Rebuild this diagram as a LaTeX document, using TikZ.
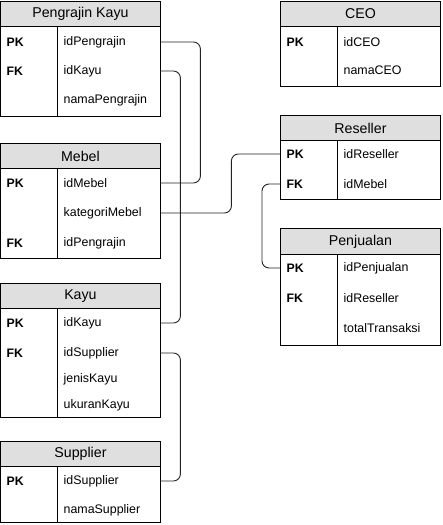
\documentclass[tikz,border=0pt]{standalone}
\usepackage{fontspec}
\setmainfont{Liberation Sans}
\definecolor{hdrgray}{HTML}{DFDFDF}
\definecolor{linegray}{HTML}{222222}
\begin{document}
\begin{tikzpicture}[x=1pt,y=-1pt,
  hdr/.style={draw=black, fill=hdrgray, minimum width=160pt, anchor=north west, inner sep=0pt, line width=0.9pt, font=\fontsize{14.2}{16}\selectfont},
  bodyb/.style={draw=black, minimum width=160pt, anchor=north west, inner sep=0pt, line width=0.9pt},
  keyc/.style={anchor=west, minimum width=57pt, text width=45pt, inner xsep=6.5pt, align=left, font=\bfseries\fontsize{12.3}{14}\selectfont},
  fldc/.style={anchor=west, minimum width=103pt, text width=90pt, inner xsep=6.5pt, align=left, font=\fontsize{12.4}{14}\selectfont},
  divl/.style={draw=black, line width=0.9pt},
  conn/.style={draw=linegray, line width=0.9pt, rounded corners=7pt}]
\useasboundingbox (0,0) rectangle (442,525);

% Pengrajin Kayu
\node[hdr, minimum height=25pt] (pgh) at (0,1) {Pengrajin Kayu};
\node[bodyb, minimum height=90pt] (pgb) at (0,26) {};
\draw[divl] ([xshift=57pt]pgb.north west) -- ([xshift=57pt]pgb.south west);
\node[keyc] (pgk1) at (0,42) {PK};
\node[keyc] (pgk2) at (0,71) {FK};
\node[fldc] (pgf1) at (57,42) {idPengrajin};
\node[fldc] (pgf2) at (57,71) {idKayu};
\node[fldc] (pgf3) at (57,100) {namaPengrajin};

% Mebel
\node[hdr, minimum height=25pt] (mbh) at (0,143) {Mebel};
\node[bodyb, minimum height=90pt] (mbb) at (0,168) {};
\draw[divl] ([xshift=57pt]mbb.north west) -- ([xshift=57pt]mbb.south west);
\node[keyc] (mbk1) at (0,183) {PK};
\node[keyc] (mbk3) at (0,243) {FK};
\node[fldc] (mbf1) at (57,183) {idMebel};
\node[fldc] (mbf2) at (57,213) {kategoriMebel};
\node[fldc] (mbf3) at (57,243) {idPengrajin};

% Kayu
\node[hdr, minimum height=25pt] (kyh) at (0,283) {Kayu};
\node[bodyb, minimum height=109pt] (kyb) at (0,308) {};
\draw[divl] ([xshift=57pt]kyb.north west) -- ([xshift=57pt]kyb.south west);
\node[keyc] (kyk1) at (0,323) {PK};
\node[keyc] (kyk2) at (0,353) {FK};
\node[fldc] (kyf1) at (57,323) {idKayu};
\node[fldc] (kyf2) at (57,353) {idSupplier};
\node[fldc] (kyf3) at (57,379) {jenisKayu};
\node[fldc] (kyf4) at (57,405) {ukuranKayu};

% Supplier
\node[hdr, minimum height=25pt] (sph) at (0,441) {Supplier};
\node[bodyb, minimum height=56pt] (spb) at (0,466) {};
\draw[divl] ([xshift=57pt]spb.north west) -- ([xshift=57pt]spb.south west);
\node[keyc] (spk1) at (0,481) {PK};
\node[fldc] (spf1) at (57,481) {idSupplier};
\node[fldc] (spf2) at (57,510) {namaSupplier};

% CEO
\node[hdr, minimum height=25pt] (ceh) at (280,1) {CEO};
\node[bodyb, minimum height=60pt] (ceb) at (280,26) {};
\draw[divl] ([xshift=57pt]ceb.north west) -- ([xshift=57pt]ceb.south west);
\node[keyc] (cek1) at (280,42) {PK};
\node[fldc] (cef1) at (337,42) {idCEO};
\node[fldc] (cef2) at (337,70) {namaCEO};

% Reseller
\node[hdr, minimum height=25pt] (rsh) at (280,115) {Reseller};
\node[bodyb, minimum height=59pt] (rsb) at (280,140) {};
\draw[divl] ([xshift=57pt]rsb.north west) -- ([xshift=57pt]rsb.south west);
\node[keyc] (rsk1) at (280,154) {PK};
\node[keyc] (rsk2) at (280,184) {FK};
\node[fldc] (rsf1) at (337,154) {idReseller};
\node[fldc] (rsf2) at (337,184) {idMebel};

% Penjualan
\node[hdr, minimum height=26pt] (pjh) at (280,228) {Penjualan};
\node[bodyb, minimum height=91pt] (pjb) at (280,254) {};
\draw[divl] ([xshift=57pt]pjb.north west) -- ([xshift=57pt]pjb.south west);
\node[keyc] (pjk1) at (280,268) {PK};
\node[keyc] (pjk2) at (280,298) {FK};
\node[fldc] (pjf1) at (337,268) {idPenjualan};
\node[fldc] (pjf2) at (337,298) {idReseller};
\node[fldc] (pjf3) at (337,328) {totalTransaksi};

% Connectors
\draw[conn] (pgf1.east) -- ([xshift=40pt]pgf1.east) |- (mbf1.east);
\draw[conn] (pgf2.east) -- ([xshift=20pt]pgf2.east) |- (kyf1.east);
\draw[conn] (kyf2.east) -- ([xshift=20pt]kyf2.east) |- (spf1.east);
\draw[conn] (mbf2.east) -- ([xshift=71pt]mbf2.east) |- (rsk1.west);
\draw[conn] (rsk2.west) -- ([xshift=-18pt]rsk2.west) |- (pjk1.west);
\end{tikzpicture}
\end{document}
